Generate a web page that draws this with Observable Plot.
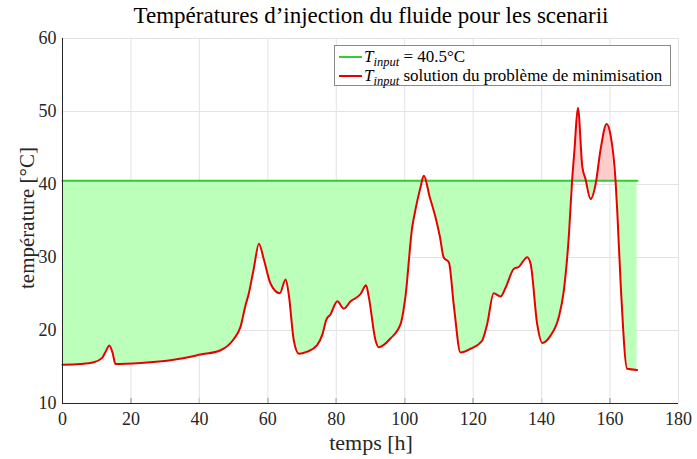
<!DOCTYPE html>
<html><head><meta charset="utf-8">
<script src="https://cdn.jsdelivr.net/npm/d3@7"></script>
<script src="https://cdn.jsdelivr.net/npm/@observablehq/plot@0.6"></script>
<style>
body{margin:0;background:#fff;}
#wrap{position:relative;width:697px;height:459px;font-family:"Liberation Serif",serif;color:#262626;overflow:hidden}
#wrap svg{position:absolute;left:0;top:0}
.title{position:absolute;left:0;width:742px;top:3px;text-align:center;font-size:23px;color:#000;white-space:nowrap}
.xlab{position:absolute;left:0;width:742px;top:432px;line-height:22px;text-align:center;font-size:22px;white-space:nowrap}
.ylab{position:absolute;left:27px;top:218px;transform:translate(-50%,-50%) rotate(-90deg);font-size:21px;white-space:nowrap}
.legend{position:absolute;left:334px;top:45px;width:337px;height:41px;border:1px solid #8a8a8a;background:#fff;font-size:17px;color:#000;box-sizing:border-box}
.row{position:absolute;left:4px;height:19px;white-space:nowrap;line-height:19px}
.sw{display:inline-block;width:23px;height:0;border-top:2px solid;vertical-align:middle;margin-right:2px;position:relative;top:-1px}
sub{font-size:12.5px;line-height:0;}
</style></head><body><div id="wrap"></div>
<script>
const hours = [0, 5, 9.1, 11.6, 12.7, 13.7, 14.6, 15.5, 22.8, 32.5, 40.3, 46.2, 50, 52, 53.5, 54.4, 55.9, 57.4, 58.8, 60.8, 63.5, 65.2, 66.1, 67.6, 69.1, 71.5, 74.4, 75.9, 77.1, 78.3, 80.3, 82.2, 84.2, 87.1, 88.7, 89.5, 91.5, 92.4, 95.8, 98.8, 100.2, 102.2, 102.9, 104.6, 105.6, 107.3, 109, 110.3, 111.4, 112.9, 114.4, 116.3, 119.2, 122.6, 124.1, 126.0, 128.0, 129.5, 131.9, 133.3, 135.8, 136.8, 138.7, 140.2, 142.6, 145.0, 146.5, 148.0, 148.9, 149.6, 150.6, 151.9, 152.8, 154.3, 155.8, 157.2, 159.0, 160.1, 161.6, 162.1, 163.1, 165.0, 167.9];
const tempSolution = [15.3, 15.4, 15.65, 16.25, 17.2, 17.95, 17.0, 15.4, 15.55, 16.0, 16.7, 17.3, 18.8, 20.5, 23.5, 25.0, 28.5, 31.9, 29.8, 26.4, 25.1, 27.0, 25.0, 18.6, 16.8, 17.1, 18.0, 19.4, 21.5, 22.2, 24.0, 23.0, 24.0, 25.0, 26.2, 24.6, 18.6, 17.7, 18.9, 20.9, 24.6, 34.2, 36.0, 39.6, 41.2, 38.3, 35.5, 32.8, 30.0, 29.35, 23.2, 17.0, 17.5, 18.6, 20.9, 25.1, 24.65, 25.9, 28.45, 28.7, 30.05, 29.1, 20.9, 18.3, 19.3, 21.8, 25.5, 33.25, 40.5, 44.7, 50.5, 42.4, 40.8, 38.0, 40.1, 44.7, 48.3, 46.9, 40.55, 36.4, 26.4, 14.75, 14.6];
const constHours = [0, 168];
const constTemps = [40.5, 40.5];
const tInput = 40.5;
const xTicks = [0, 20, 40, 60, 80, 100, 120, 140, 160, 180];
const yTicks = [10, 20, 30, 40, 50, 60];
const titleText = "Températures d’injection du fluide pour les scenarii";
const xLabel = "temps [h]";
const yLabel = "température [°C]";

const sol = hours.map((t, i) => ({t, T: tempSolution[i]}));
const cst = constHours.map((t, i) => ({t, T: constTemps[i]}));
const curve = "monotone-x";

const plot = Plot.plot({
  width: 697, height: 459,
  marginLeft: 62, marginRight: 19, marginTop: 38, marginBottom: 56,
  style: {fontFamily: "Liberation Serif, serif", fontSize: "18px", color: "#262626", background: "transparent"},
  x: {domain: [0, 180], ticks: xTicks, tickSize: -5, tickPadding: 14, label: null},
  y: {domain: [10, 60], ticks: yTicks, tickSize: -5, tickPadding: 11, label: null},
  marks: [
    Plot.ruleX(xTicks, {stroke: "#e3e3e3"}),
    Plot.ruleY(yTicks, {stroke: "#e3e3e3"}),
    Plot.areaY(sol, {x: "t", y1: tInput, y2: d => Math.min(d.T, tInput), fill: "#bbffbb", curve}),
    Plot.areaY(sol, {x: "t", y1: tInput, y2: d => Math.max(d.T, tInput), fill: "#ffcccc", curve}),
    Plot.line(cst, {x: "t", y: "T", stroke: "#33cc33", strokeWidth: 2}),
    Plot.line(sol, {x: "t", y: "T", stroke: "#e60000", strokeWidth: 2, curve}),
    Plot.ruleX([0], {stroke: "#262626"}),
    Plot.ruleY([10], {stroke: "#262626"})
  ]
});

const wrap = document.getElementById("wrap");
wrap.appendChild(plot);
const mk = (cls, html) => { const d = document.createElement("div"); d.className = cls; d.innerHTML = html; wrap.appendChild(d); return d; };
mk("title", titleText);
mk("xlab", xLabel);
mk("ylab", yLabel);
const lg = mk("legend", "");
const r1 = document.createElement("div"); r1.className = "row"; r1.style.top = "1px";
r1.innerHTML = `<span class="sw" style="border-color:#33cc33"></span><i>T</i><sub><i>input</i></sub> = ${tInput}°C`;
const r2 = document.createElement("div"); r2.className = "row"; r2.style.top = "20px";
r2.innerHTML = `<span class="sw" style="border-color:#e60000"></span><i>T</i><sub><i>input</i></sub> solution du problème de minimisation`;
lg.appendChild(r1); lg.appendChild(r2);
</script></body></html>
